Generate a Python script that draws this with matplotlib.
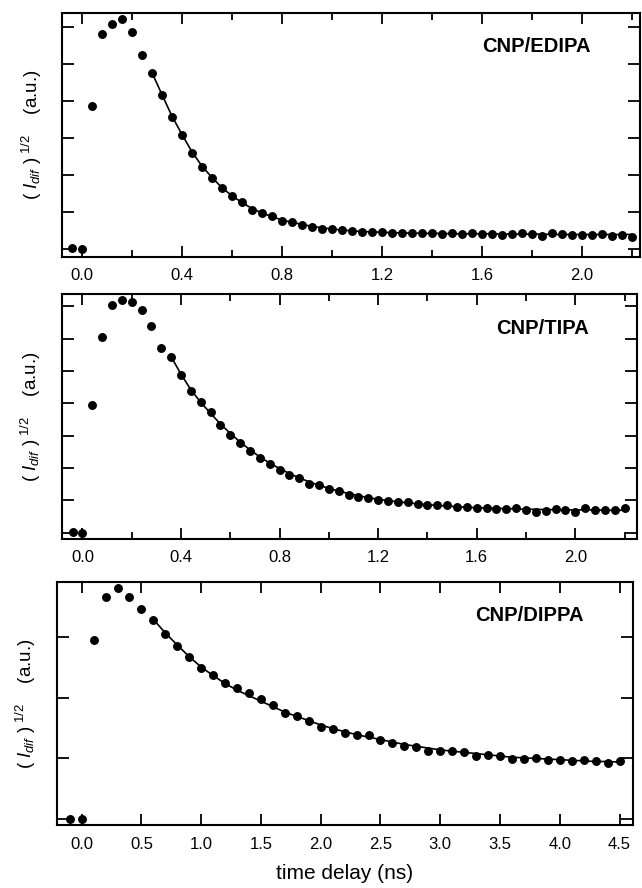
import numpy as np
import matplotlib
matplotlib.use("Agg")
import matplotlib.pyplot as plt
from matplotlib.ticker import MultipleLocator

plt.rcParams.update({
    "font.family": ["Liberation Sans", "DejaVu Sans"],
    "mathtext.fontset": "custom",
    "mathtext.rm": "Liberation Sans",
    "mathtext.it": "Liberation Sans:italic",
    "mathtext.bf": "Liberation Sans:bold",
})

# ---- CNP/EDIPA (top) ----
edipa_t = np.round(np.arange(-0.04, 2.2001, 0.04), 2)
edipa_y = [0.03, 0.0, 3.86, 5.80, 6.07, 6.21, 5.86, 5.25, 4.75, 4.16,
           3.58, 3.09, 2.59, 2.23, 1.93, 1.66, 1.44, 1.27, 1.06, 0.99,
           0.90, 0.77, 0.74, 0.65, 0.61, 0.56, 0.55, 0.52, 0.50, 0.48,
           0.47, 0.46, 0.45, 0.44, 0.44, 0.43, 0.43, 0.42, 0.43, 0.42,
           0.43, 0.41, 0.40, 0.39, 0.40, 0.43, 0.40, 0.37, 0.43, 0.40,
           0.39, 0.39, 0.39, 0.40, 0.37, 0.39, 0.33]
edipa_fit_t = np.round(np.arange(0.28, 2.2001, 0.04), 2)
edipa_fit = [4.75, 4.16, 3.58, 3.09, 2.62, 2.24, 1.93, 1.66, 1.44, 1.26,
             1.10, 0.98, 0.88, 0.79, 0.73, 0.67, 0.62, 0.58, 0.55, 0.52,
             0.50, 0.48, 0.47, 0.46, 0.45, 0.44, 0.44, 0.43, 0.43, 0.43,
             0.42, 0.42, 0.42, 0.42, 0.42, 0.41, 0.41, 0.41, 0.41, 0.41,
             0.40, 0.40, 0.40, 0.40, 0.40, 0.40, 0.40, 0.40, 0.40]

# ---- CNP/TIPA (middle) ----
tipa_t = np.round(np.arange(-0.04, 2.2001, 0.04), 2)
tipa_y = [0.03, -0.02, 3.95, 6.04, 7.04, 7.18, 7.12, 6.89, 6.39, 5.72,
          5.44, 4.88, 4.38, 4.04, 3.72, 3.33, 3.02, 2.76, 2.51, 2.30,
          2.12, 1.94, 1.78, 1.68, 1.51, 1.47, 1.34, 1.27, 1.16, 1.09,
          1.06, 1.01, 0.98, 0.96, 0.93, 0.89, 0.86, 0.86, 0.84, 0.80,
          0.80, 0.77, 0.76, 0.74, 0.73, 0.77, 0.70, 0.64, 0.67, 0.72,
          0.70, 0.65, 0.77, 0.70, 0.70, 0.70, 0.77]
tipa_fit_t = np.round(np.arange(0.36, 2.2001, 0.04), 2)
tipa_fit = [5.44, 4.90, 4.42, 4.03, 3.69, 3.36, 3.07, 2.80, 2.56, 2.34,
            2.15, 1.98, 1.83, 1.69, 1.57, 1.46, 1.37, 1.28, 1.21, 1.14,
            1.08, 1.03, 0.99, 0.95, 0.92, 0.89, 0.86, 0.84, 0.82, 0.80,
            0.78, 0.77, 0.76, 0.75, 0.74, 0.73, 0.72, 0.72, 0.71, 0.71,
            0.70, 0.70, 0.70, 0.70, 0.69, 0.69, 0.69]

# ---- CNP/DIPPA (bottom) ----
dippa_t = np.round(np.arange(-0.1, 4.5001, 0.1), 1)
dippa_y = [0.0, 0.0, 2.95, 3.65, 3.80, 3.65, 3.46, 3.28, 3.05, 2.84,
           2.67, 2.49, 2.37, 2.24, 2.16, 2.07, 1.97, 1.87, 1.75, 1.70,
           1.62, 1.51, 1.48, 1.42, 1.39, 1.38, 1.30, 1.26, 1.21, 1.19,
           1.13, 1.12, 1.12, 1.10, 1.04, 1.05, 1.04, 0.99, 0.99, 1.01,
           0.98, 0.97, 0.96, 0.97, 0.95, 0.93, 0.95]
dippa_fit_t = np.round(np.arange(0.6, 4.5001, 0.1), 1)
dippa_fit = [3.28, 3.06, 2.86, 2.67, 2.50, 2.36, 2.23, 2.12, 2.03, 1.94,
             1.85, 1.76, 1.69, 1.62, 1.55, 1.49, 1.44, 1.39, 1.35, 1.31,
             1.27, 1.23, 1.20, 1.17, 1.14, 1.12, 1.10, 1.08, 1.06, 1.04,
             1.02, 1.01, 1.00, 0.99, 0.98, 0.97, 0.96, 0.95, 0.95, 0.94]

# small vertical error bar on the t = 0 point
zero_err = [0.12, 0.15, 0.08]

panels = [
    # name, t, y, fit_t, fit, axes rect, xlim, ylim, yticks, xmajor, xminor, err
    ("CNP/EDIPA", edipa_t, edipa_y, edipa_fit_t, edipa_fit,
     [0.0966, 0.7102, 0.9003, 0.2755], (-0.081, 2.233), (-0.216, 6.38),
     range(0, 7), 0.4, 0.2, zero_err[0]),
    ("CNP/TIPA", tipa_t, tipa_y, tipa_fit_t, tipa_fit,
     [0.0961, 0.3930, 0.8966, 0.2756], (-0.084, 2.252), (-0.20, 7.37),
     range(0, 8), 0.4, 0.2, zero_err[1]),
    ("CNP/DIPPA", dippa_t, dippa_y, dippa_fit_t, dippa_fit,
     [0.0883, 0.0704, 0.8972, 0.2745], (-0.209, 4.61), (-0.10, 3.90),
     range(0, 4), 0.5, None, zero_err[2]),
]

fig = plt.figure(figsize=(6.42, 8.88), dpi=100)

for name, t, y, ft, fy, rect, xl, yl, yt, xmaj, xmin, err in panels:
    ax = fig.add_axes(rect)
    ax.plot(ft, fy, "-", color="black", linewidth=1.2, zorder=2)
    ax.plot(t, y, "o", color="black", markersize=5.4, zorder=3)
    i0 = int(np.argmin(np.abs(t)))
    ax.errorbar([t[i0]], [y[i0]], yerr=err, fmt="none", ecolor="black",
                elinewidth=1.3, capsize=0, zorder=3)

    ax.set_xlim(*xl)
    ax.set_ylim(*yl)
    ax.xaxis.set_major_locator(MultipleLocator(xmaj))
    if xmin:
        ax.xaxis.set_minor_locator(MultipleLocator(xmin))
    ax.xaxis.set_major_formatter(plt.FuncFormatter(lambda v, p: f"{abs(v):.1f}"))
    ax.set_yticks(list(yt))
    ax.set_yticklabels([])

    ax.tick_params(axis="both", which="both", direction="in",
                   top=True, right=True, width=1.3, colors="black")
    ax.tick_params(axis="x", which="major", length=8, pad=8, labelsize=12)
    ax.tick_params(axis="x", which="minor", length=5)
    ax.tick_params(axis="y", which="major", length=8.5)
    for s in ax.spines.values():
        s.set_linewidth(1.5)

    ax.set_ylabel(r"$(\ I_{dif}\ )^{\ 1/2}$    (a.u.)", fontsize=13.5)
    ax.yaxis.set_label_coords(-0.032, 0.5)

    ax.text(0.915, 0.86, name, transform=ax.transAxes, ha="right",
            va="center", fontsize=14.5, fontweight="bold")

ax.set_xlabel("time delay (ns)", fontsize=15, labelpad=9)

fig.savefig("out.png", dpi=100)
